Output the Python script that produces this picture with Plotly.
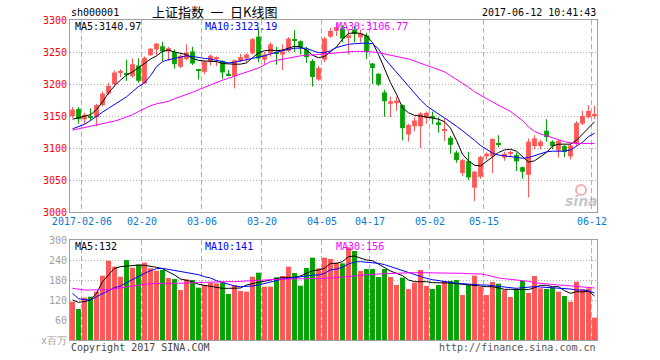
import plotly.graph_objects as go

# ---------------- data ----------------
tick_index = [2, 12, 22, 32, 42, 50, 60, 69, 87]
tick_labels = ["2017-02-06", "02-20", "03-06", "03-20", "04-05", "04-17", "05-02", "05-15", "06-12"]

opens = [3150, 3161, 3145, 3150, 3148, 3167, 3185, 3200, 3218, 3217,
         3212, 3229, 3201, 3245, 3254, 3259, 3251, 3250, 3227, 3239,
         3251, 3222, 3219, 3235, 3240, 3236, 3216, 3212, 3236, 3240,
         3248, 3274, 3238, 3248, 3248, 3246, 3252, 3269, 3267, 3254,
         3236, 3207, 3238, 3274, 3283, 3287, 3272, 3285, 3273, 3276,
         3232, 3216, 3187, 3169, 3170, 3167, 3121, 3134, 3134, 3147,
         3149, 3140, 3127, 3116, 3093, 3061, 3080, 3038, 3055, 3087,
         3087, 3108, 3085, 3092, 3089, 3070, 3058, 3103, 3103, 3127,
         3110, 3096, 3103, 3087, 3106, 3138, 3148, 3150]
highs = [3164, 3164, 3155, 3162, 3169, 3188, 3202, 3221, 3223, 3238,
         3240, 3240, 3243, 3256, 3264, 3266, 3258, 3254, 3246, 3262,
         3258, 3223, 3236, 3246, 3243, 3237, 3222, 3238, 3247, 3248,
         3272, 3287, 3250, 3265, 3258, 3262, 3273, 3284, 3268, 3258,
         3239, 3228, 3274, 3288, 3295, 3292, 3285, 3291, 3285, 3280,
         3233, 3217, 3191, 3180, 3180, 3168, 3138, 3148, 3156, 3157,
         3157, 3148, 3146, 3119, 3096, 3083, 3094, 3064, 3088, 3093,
         3115, 3120, 3094, 3096, 3093, 3071, 3115, 3120, 3113, 3145,
         3112, 3113, 3105, 3108, 3142, 3158, 3167, 3166]
lows = [3147, 3138, 3137, 3142, 3134, 3165, 3183, 3196, 3211, 3205,
        3210, 3202, 3200, 3244, 3245, 3236, 3236, 3224, 3225, 3237,
        3230, 3207, 3215, 3229, 3228, 3208, 3212, 3193, 3234, 3234,
        3246, 3234, 3230, 3243, 3230, 3222, 3250, 3250, 3246, 3233,
        3196, 3205, 3234, 3272, 3275, 3265, 3246, 3265, 3265, 3239,
        3200, 3197, 3149, 3148, 3158, 3112, 3110, 3126, 3100, 3138,
        3137, 3124, 3111, 3091, 3077, 3056, 3050, 3017, 3052, 3082,
        3061, 3101, 3080, 3087, 3064, 3052, 3023, 3098, 3098, 3110,
        3098, 3085, 3086, 3082, 3104, 3136, 3146, 3145]
closes = [3160, 3145, 3152, 3147, 3167, 3185, 3197, 3218, 3220, 3215,
          3231, 3205, 3241, 3255, 3263, 3251, 3256, 3231, 3244, 3249,
          3232, 3221, 3235, 3244, 3242, 3218, 3214, 3237, 3242, 3246,
          3270, 3240, 3246, 3262, 3247, 3251, 3271, 3268, 3257, 3242,
          3211, 3225, 3271, 3283, 3289, 3271, 3276, 3278, 3279, 3250,
          3225, 3199, 3173, 3173, 3174, 3131, 3136, 3143, 3154, 3155,
          3147, 3137, 3129, 3105, 3081, 3081, 3054, 3063, 3086, 3091,
          3114, 3106, 3091, 3093, 3079, 3063, 3110, 3115, 3110, 3117,
          3103, 3111, 3094, 3104, 3139, 3150, 3158, 3153]

ma5 = [3145, 3147, 3149, 3152, 3160, 3172, 3186, 3197, 3206, 3214,
       3219, 3225, 3232, 3239, 3244, 3251, 3253, 3250, 3248, 3246,
       3240, 3237, 3236, 3236, 3235, 3232, 3231, 3231, 3231, 3233,
       3241, 3249, 3252, 3253, 3252, 3253, 3256, 3259, 3258, 3253,
       3245, 3241, 3243, 3250, 3258, 3270, 3279, 3280, 3279, 3275,
       3265, 3246, 3223, 3202, 3184, 3163, 3155, 3151, 3150, 3148,
       3146, 3145, 3141, 3131, 3112, 3090, 3080, 3073, 3072, 3079,
       3087, 3093, 3097, 3098, 3095, 3086, 3078, 3080, 3087, 3093,
       3103, 3106, 3106, 3106, 3112, 3122, 3132, 3141]
ma10 = [3130, 3133, 3137, 3143, 3150, 3156, 3162, 3168, 3174, 3180,
        3188, 3196, 3202, 3213, 3227, 3235, 3238, 3240, 3242, 3244,
        3243, 3241, 3240, 3239, 3237, 3235, 3233, 3234, 3236, 3237,
        3239, 3242, 3244, 3247, 3250, 3252, 3254, 3256, 3256, 3256,
        3252, 3249, 3249, 3252, 3257, 3260, 3262, 3263, 3264, 3264,
        3263, 3255, 3240, 3229, 3219, 3207, 3196, 3186, 3175, 3166,
        3159, 3153, 3147, 3141, 3134, 3127, 3120, 3112, 3104, 3098,
        3092, 3089, 3088, 3086, 3085, 3084, 3085, 3088, 3092, 3094,
        3095, 3095, 3095, 3097, 3103, 3109, 3118, 3123]
ma30 = [3128, 3130, 3132, 3134, 3136, 3137, 3139, 3142, 3145, 3148,
        3152, 3157, 3162, 3166, 3169, 3171, 3173, 3177, 3180, 3183,
        3187, 3191, 3195, 3199, 3203, 3206, 3209, 3212, 3216, 3219,
        3222, 3225, 3230, 3235, 3237, 3239, 3241, 3243, 3244, 3245,
        3245, 3246, 3247, 3248, 3249, 3250, 3251, 3251, 3251, 3251,
        3250, 3249, 3247, 3246, 3244, 3242, 3239, 3236, 3232, 3229,
        3226, 3223, 3219, 3213, 3207, 3202, 3195, 3188, 3182, 3177,
        3172, 3167, 3162, 3157, 3150, 3143, 3133, 3126, 3122, 3119,
        3115, 3112, 3110, 3108, 3107, 3107, 3107, 3107]

volumes = [115, 93, 127, 130, 145, 193, 238, 220, 190, 240,
           217, 226, 232, 215, 208, 210, 186, 183, 150, 182,
           180, 157, 165, 172, 170, 172, 138, 165, 147, 145,
           190, 202, 160, 160, 188, 192, 220, 201, 163, 216,
           247, 215, 247, 243, 232, 230, 278, 267, 207, 213,
           213, 189, 213, 189, 165, 187, 153, 172, 210, 162,
           153, 165, 177, 177, 180, 135, 165, 193, 159, 135,
           174, 169, 150, 129, 153, 177, 141, 192, 155, 153,
           157, 145, 132, 115, 175, 152, 155, 67]
vma5 = [120, 113, 115, 120, 140, 175, 195, 215, 220, 222,
        224, 225, 224, 222, 218, 214, 205, 195, 183, 178,
        175, 167, 164, 160, 158, 155, 155, 155, 156, 165,
        170, 173, 176, 180, 185, 188, 188, 188, 192, 200,
        208, 210, 215, 230, 230, 235, 250, 252, 245, 240,
        238, 228, 218, 207, 200, 193, 180, 175, 175, 175,
        172, 172, 172, 171, 169, 167, 166, 164, 161, 160,
        160, 155, 152, 152, 152, 150, 151, 157, 164, 164,
        160, 160, 148, 140, 145, 144, 146, 132]
vma10 = [140, 124, 121, 120, 130, 138, 148, 157, 162, 172,
         182, 192, 200, 208, 214, 215, 212, 207, 204, 201,
         199, 196, 190, 186, 178, 173, 168, 162, 160, 160,
         162, 165, 170, 175, 180, 183, 185, 187, 188, 192,
         195, 195, 200, 210, 213, 218, 228, 234, 235, 234,
         232, 230, 226, 220, 215, 209, 202, 197, 190, 185,
         181, 178, 175, 172, 170, 169, 167, 165, 165, 165,
         163, 161, 158, 157, 155, 157, 159, 160, 159, 158,
         158, 157, 155, 153, 150, 150, 147, 141]
vma30 = [155, 152, 150, 150, 150, 150, 151, 154, 157, 160,
         162, 165, 167, 169, 170, 170, 170, 170, 170, 170,
         172, 172, 173, 174, 175, 175, 175, 175, 176, 178,
         180, 181, 182, 182, 183, 183, 183, 183, 183, 183,
         184, 184, 185, 186, 187, 188, 190, 192, 194, 196,
         197, 198, 199, 200, 200, 201, 202, 202, 202, 202,
         202, 202, 201, 201, 201, 200, 199, 199, 198, 195,
         190, 186, 184, 182, 181, 180, 176, 172, 170, 167,
         166, 165, 164, 162, 160, 158, 157, 156]

# ---------------- styling ----------------
W, H = 660, 360
RED = "#ff5656"
GREEN = "#03a303"
MONO = "DejaVu Sans Mono, Liberation Mono, monospace"
CJK = "Noto Sans CJK SC, Noto Sans, sans-serif"


def px_x(p):
    return p / W


def px_y(p):
    return 1 - p / H


n = len(closes)
idx = list(range(n))
up = [c >= o for o, c in zip(opens, closes)]

fig = go.Figure()

# wicks
for flag, col in ((True, RED), (False, GREEN)):
    xs, ys = [], []
    for i in idx:
        if up[i] == flag:
            xs += [i, i, None]
            ys += [lows[i], highs[i], None]
    fig.add_trace(go.Scatter(x=xs, y=ys, mode="lines", line=dict(color=col, width=1),
                             xaxis="x", yaxis="y", hoverinfo="skip"))

# bodies
for flag, col in ((True, RED), (False, GREEN)):
    sel = [i for i in idx if up[i] == flag]
    fig.add_trace(go.Bar(
        x=sel,
        y=[max(abs(closes[i] - opens[i]), 1.6) for i in sel],
        base=[min(opens[i], closes[i]) for i in sel],
        width=0.8, marker=dict(color=col, line=dict(width=0)),
        xaxis="x", yaxis="y", hoverinfo="skip"))

# price MAs
for arr, col in ((ma5, "#000000"), (ma10, "#0000ff"), (ma30, "#ff00ff")):
    fig.add_trace(go.Scatter(x=idx, y=arr, mode="lines", line=dict(color=col, width=1),
                             xaxis="x", yaxis="y", hoverinfo="skip"))

# volume bars
fig.add_trace(go.Bar(x=idx, y=volumes, width=0.82,
                     marker=dict(color=[RED if u else GREEN for u in up], line=dict(width=0)),
                     xaxis="x2", yaxis="y2", hoverinfo="skip"))
for arr, col in ((vma5, "#000000"), (vma10, "#0000ff"), (vma30, "#ff00ff")):
    fig.add_trace(go.Scatter(x=idx, y=arr, mode="lines", line=dict(color=col, width=1),
                             xaxis="x2", yaxis="y2", hoverinfo="skip"))

xr = [-2.5 / 6, -2.5 / 6 + 527 / 6]
tickpos = [t - 0.42 for t in tick_index]
common_x = dict(domain=[px_x(70), px_x(597)], range=xr, showgrid=True,
                gridcolor="#b0b0b0", griddash="5px,3px", gridwidth=1,
                tickvals=tickpos, ticks="", zeroline=False, automargin=False,
                showline=True, mirror=True, linecolor="#a0a0a0", linewidth=1)
grid_y = dict(showgrid=True, gridcolor="#b0b0b0", griddash="1px,2px", gridwidth=1,
              ticks="", zeroline=False, showline=True, mirror=True, automargin=False,
              linecolor="#a0a0a0", linewidth=1)

fig.update_layout(
    width=W, height=H, margin=dict(l=0, r=0, t=0, b=0, pad=0, autoexpand=False),
    paper_bgcolor="white", plot_bgcolor="white",
    showlegend=False, hovermode=False, barmode="overlay",
    xaxis=dict(**common_x, anchor="y", ticktext=tick_labels,
               tickfont=dict(family=MONO, size=10, color="#0a78d2")),
    xaxis2=dict(**common_x, anchor="y2", matches="x", showticklabels=False),
    yaxis=dict(**grid_y, domain=[px_y(212), px_y(20)], range=[3000, 3300],
               tickvals=[3000, 3050, 3100, 3150, 3200, 3250, 3300],
               tickfont=dict(family=MONO, size=10, color="#ff0000")),
    yaxis2=dict(**grid_y, domain=[px_y(340), px_y(240)], range=[0, 300],
                tickvals=[0, 60, 120, 180, 240, 300],
                ticktext=["x百万", "60", "120", "180", "240", "300"],
                tickfont=dict(family=MONO, size=10, color="#a0a0a0")),
)


def txt(text, x, y, color="#000000", size=10, family=MONO, xanchor="left", **kw):
    fig.add_annotation(text=text, x=px_x(x), y=px_y(y), xref="paper", yref="paper",
                       showarrow=False, xanchor=xanchor, yanchor="middle",
                       font=dict(family=family, size=size, color=color), **kw)


txt("sh000001", 69, 13)
txt("上证指数\u2002一\u2002日K线图", 214, 12, size=13, family=CJK, xanchor="center")
txt("2017-06-12 10:41:43", 598, 13, xanchor="right")

txt("MA5:%.2f" % 3140.97, 73, 27)
txt("MA10:%.2f" % 3123.19, 203, 27, color="#0000ff")
txt("MA30:%.2f" % 3106.77, 334, 27, color="#ff00ff")

txt("MA5:%d" % vma5[-1], 73, 246)
txt("MA10:%d" % vma10[-1], 203, 246, color="#0000ff")
txt("MA30:%d" % vma30[-1], 334, 246, color="#ff00ff")

txt("Copyright 2017 SINA.COM", 69, 347, color="#444444")
txt("http://finance.sina.com.cn", 598, 347, color="#555555", xanchor="right")

# sina watermark
fig.add_shape(type="circle", xref="paper", yref="paper",
              x0=px_x(576), x1=px_x(586), y0=px_y(195), y1=px_y(185),
              line=dict(color="rgba(240,120,120,0.6)", width=2))
fig.add_annotation(text="<b><i>sina</i></b>", x=px_x(581), y=px_y(201), xref="paper", yref="paper",
                   showarrow=False, xanchor="center", yanchor="middle",
                   font=dict(family="DejaVu Sans", size=14, color="rgba(150,150,150,0.55)"))

fig.write_html("out.html", config={"displayModeBar": False},
               post_script="document.body.style.margin='0';")
